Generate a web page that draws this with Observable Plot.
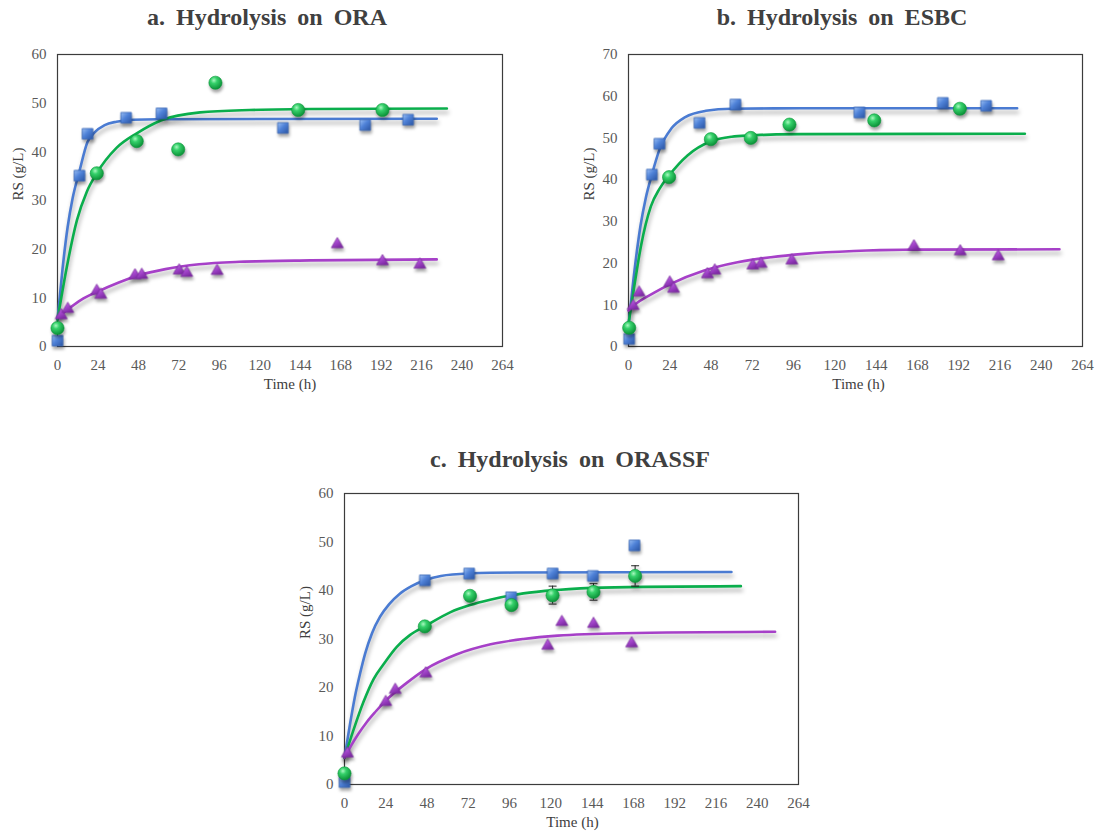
<!DOCTYPE html>
<html>
<head>
<meta charset="utf-8">
<script src="https://cdn.jsdelivr.net/npm/d3@7"></script>
<script src="https://cdn.jsdelivr.net/npm/@observablehq/plot@0.6"></script>
<style>
  html, body { margin: 0; padding: 0; background: #ffffff; }
  #wrap { position: relative; width: 1105px; height: 838px; overflow: hidden; background: #fff; }
  .title { position: absolute; width: 460px; text-align: center; font-family: 'Liberation Serif', 'Times New Roman', serif;
           font-weight: bold; font-size: 24px; line-height: 26px; color: #404040; word-spacing: 5px; }
  .panel { position: absolute; }
</style>
</head>
<body>
<div id="wrap">
  <svg width="0" height="0" style="position:absolute">
    <defs>
      <linearGradient id="gSq" x1="0" y1="0" x2="1" y2="1">
        <stop offset="0" stop-color="#9cc0f4"/>
        <stop offset="0.45" stop-color="#4f82d8"/>
        <stop offset="1" stop-color="#2b55a3"/>
      </linearGradient>
      <radialGradient id="gCi" cx="0.38" cy="0.32" r="0.7">
        <stop offset="0" stop-color="#a8f7bf"/>
        <stop offset="0.35" stop-color="#35d06a"/>
        <stop offset="1" stop-color="#0a8f36"/>
      </radialGradient>
      <linearGradient id="gTr" x1="0" y1="0" x2="0.6" y2="1">
        <stop offset="0" stop-color="#d28af0"/>
        <stop offset="0.5" stop-color="#a748cf"/>
        <stop offset="1" stop-color="#7d2aa3"/>
      </linearGradient>
    </defs>
  </svg>
</div>
<script>
// ---------- data ----------
const xTicks = [0, 24, 48, 72, 96, 120, 144, 168, 192, 216, 240, 264];
const yTicksA = [0, 10, 20, 30, 40, 50, 60];
const yTicksB = [0, 10, 20, 30, 40, 50, 60, 70];
const yTicksC = [0, 10, 20, 30, 40, 50, 60];

const titles = ["a. Hydrolysis on ORA", "b. Hydrolysis on ESBC", "c. Hydrolysis on ORASSF"];
const xLabel = "Time (h)";
const yLabel = "RS (g/L)";

// Panel a
const aSquares = [[0,1.2],[13,35.1],[17.8,43.7],[40.7,47.0],[61.7,47.9],[133.7,44.9],[182.5,45.5],[208,46.6]];
const aCircles = [[0,3.8],[23.3,35.6],[47,42.2],[71.6,40.5],[93.7,54.2],[142.8,48.6],[192.8,48.6]];
const aTriangles = [[2.2,6.4],[6.1,7.7],[23.3,11.4],[25.7,10.6],[46,14.6],[50,14.7],[72.2,15.6],[76.7,15.1],[94.7,15.5],[166,21],[192.8,17.5],[215,16.8]];
const aBlueFit = [[0,5.5],[3,16],[6,24.5],[9,30.5],[13,36],[17.8,42],[22,44],[28,45.5],[35,46.2],[45,46.6],[60,46.7],[225,46.8]];
const aGreenFit = [[0,5.5],[5.5,16.3],[11.5,25.9],[17.4,31.8],[23.3,35.6],[35,40.8],[47,43.8],[61.7,46.5],[84.6,48.1],[114,48.6],[150,48.8],[231,48.9]];
const aPurpleFit = [[0,6.0],[6,7.6],[14,9.6],[24,11.3],[36,13.1],[48,14.6],[64,15.9],[84,16.9],[108,17.4],[150,17.7],[225,17.9]];

// Panel b
const bSquares = [[0.4,1.8],[13.6,41.2],[18,48.6],[41.3,53.6],[62.2,58.0],[134.3,56.1],[182.8,58.4],[208,57.7]];
const bCircles = [[0.4,4.5],[23.6,40.6],[47.9,49.7],[71.1,50.0],[93.6,53.2],[142.9,54.2],[192.7,57.0]];
const bTriangles = [[2.7,9.7],[6.2,12.9],[24,15.3],[26.2,13.8],[45.9,17.3],[50.2,18.2],[72.3,19.4],[77.1,19.8],[95,20.6],[166,24.0],[192.9,22.8],[215,21.6]];
const bBlueFit = [[0,5],[4,20],[7,29],[10,35.5],[13.6,41.2],[18,47.2],[25,52.3],[33,55.0],[45,56.5],[60,57.0],[100,57.1],[226,57.1]];
const bGreenFit = [[0,5.4],[3,13.5],[7.2,24],[13,33.6],[18,37.8],[23.6,41.0],[34.3,45.8],[47.9,49.2],[60,50.3],[71,50.6],[100,50.9],[230.5,51.0]];
const bPurpleFit = [[0,8.6],[2.7,9.7],[15,12.9],[24.6,15],[44,18.2],[63.4,20.2],[82.8,21.4],[102,22.2],[131,22.9],[160,23.2],[250.6,23.3]];

// Panel c
const cSquares = [[0,0.5],[46.7,42.1],[72.5,43.5],[96.9,38.6],[121,43.5],[144.4,43],[168.6,49.3]];
const cCircles = [[0,2.3],[46.7,32.6],[73,38.9],[97.1,37.0],[121,39.0],[144.8,39.7],[169,43.0]];
const cTriangles = [[1.7,6.4],[24,17.0],[29.5,19.5],[47.3,22.9],[118.2,28.6],[126.4,33.5],[144.8,33.1],[167,29.1]];
const cErrors = [[121,37.2,40.9],[144.8,38.0,41.4],[169,40.9,45.1]];
const cBlueFit = [[0,5.5],[3,12],[6,18],[9,22.8],[12,27],[16,31.2],[20.7,34.6],[26,37.2],[32,39.3],[39,40.9],[46.7,42.1],[56,43],[72,43.5],[100,43.7],[225,43.8]];
const cGreenFit = [[0,5.5],[5,11],[11,17],[17,21.8],[22.7,24.8],[30.4,28.4],[38,30.8],[46.7,32.6],[61.4,35.5],[73,37.0],[84.7,38.1],[104,39.4],[123.5,40.1],[150,40.6],[230.5,40.9]];
const cPurpleFit = [[0,5.5],[4,8.1],[8,10.4],[13,12.9],[18,15.0],[24,17.3],[36,20.9],[47.3,23.8],[65,26.8],[85,28.9],[104,30.0],[124,30.7],[162,31.2],[250.4,31.5]];

// ---------- styles ----------
const blueLine = "#4a7bd2", greenLine = "#0aae4c", purpleLine = "#a640c8";
const capSymbol = { draw(ctx, size) { const w = Math.sqrt(size); ctx.moveTo(-w / 2, 0); ctx.lineTo(w / 2, 0); } };

function panel(cfg) {
  const X = d => d[0], Y = d => d[1];
  const marks = [
    Plot.frame({stroke: "#3c3c3c", strokeWidth: 1.2}),
    Plot.axisX({ticks: xTicks, tickSize: 0, tickPadding: 13, tickFormat: d => d, fill: "#595959"}),
    Plot.axisY({ticks: cfg.yTicks, tickSize: 0, tickPadding: 11, tickFormat: d => d, fill: "#595959"}),
    Plot.text([xLabel], {frameAnchor: "bottom", dy: 42, dx: cfg.xLabelDx, text: d => d, fill: "#404040", fontSize: 15}),
    Plot.text([yLabel], {frameAnchor: "left", dx: -39, rotate: -90, text: d => d, fill: "#404040", fontSize: 15}),
    Plot.line(cfg.blueFit, {x: X, y: Y, stroke: blueLine, strokeWidth: 2.6, curve: "monotone-x"}),
    Plot.line(cfg.greenFit, {x: X, y: Y, stroke: greenLine, strokeWidth: 2.6, curve: "monotone-x"}),
    Plot.line(cfg.purpleFit, {x: X, y: Y, stroke: purpleLine, strokeWidth: 2.6, curve: "monotone-x"})
  ];
  if (cfg.errors) {
    marks.push(Plot.ruleX(cfg.errors, {x: d => d[0], y1: d => d[1], y2: d => d[2], stroke: "#222", strokeWidth: 1}));
    marks.push(Plot.dot(cfg.errors, {x: d => d[0], y: d => d[1], symbol: capSymbol, r: 4.5, stroke: "#222", strokeWidth: 1}));
    marks.push(Plot.dot(cfg.errors, {x: d => d[0], y: d => d[2], symbol: capSymbol, r: 4.5, stroke: "#222", strokeWidth: 1}));
  }
  marks.push(
    Plot.dot(cfg.triangles, {x: X, y: Y, symbol: "triangle", r: 4.4, fill: "url(#gTr)", stroke: "#7a2a9e", strokeWidth: 0.8}),
    Plot.dot(cfg.squares, {x: X, y: Y, symbol: "square", r: 6.0, fill: "url(#gSq)", stroke: "#3563b4", strokeWidth: 0.8}),
    Plot.dot(cfg.circles, {x: X, y: Y, symbol: "circle", r: 6.6, fill: "url(#gCi)", stroke: "#0b9a3d", strokeWidth: 0.6})
  );
  const svg = Plot.plot({
    width: cfg.width, height: cfg.height,
    marginTop: cfg.mt, marginRight: cfg.mr, marginBottom: cfg.mb, marginLeft: cfg.ml,
    x: {domain: [0, 264], label: null},
    y: {domain: cfg.yDomain, label: null},
    style: {fontFamily: "'Liberation Serif', 'Times New Roman', serif", fontSize: "15px", color: "#595959", background: "transparent", overflow: "visible"},
    marks
  });
  d3.select(svg).selectAll('g[aria-label="line"]').style("filter", "drop-shadow(1px 4px 2px rgba(0,0,0,0.32))");
  d3.select(svg).selectAll('g[aria-label="dot"]').style("filter", "drop-shadow(1px 3px 1.5px rgba(0,0,0,0.35))");
  const div = document.createElement("div");
  div.className = "panel";
  div.style.left = cfg.left + "px";
  div.style.top = cfg.top + "px";
  div.appendChild(svg);
  return div;
}

const wrap = document.getElementById("wrap");
function addTitle(text, cx, top) {
  const t = document.createElement("div");
  t.className = "title";
  t.textContent = text;
  t.style.left = (cx - 230) + "px";
  t.style.top = top + "px";
  wrap.appendChild(t);
}

wrap.appendChild(panel({left: 0, top: 40, width: 540, height: 362, mt: 14, mr: 38, mb: 56, ml: 57,
  yDomain: [0, 60], yTicks: yTicksA, xLabelDx: 10,
  squares: aSquares, circles: aCircles, triangles: aTriangles,
  blueFit: aBlueFit, greenFit: aGreenFit, purpleFit: aPurpleFit}));
wrap.appendChild(panel({left: 570, top: 40, width: 535, height: 362, mt: 14, mr: 23, mb: 56, ml: 58,
  yDomain: [0, 70], yTicks: yTicksB, xLabelDx: 3,
  squares: bSquares, circles: bCircles, triangles: bTriangles,
  blueFit: bBlueFit, greenFit: bGreenFit, purpleFit: bPurpleFit}));
wrap.appendChild(panel({left: 290, top: 480, width: 530, height: 358, mt: 13, mr: 22, mb: 54, ml: 54,
  yDomain: [0, 60], yTicks: yTicksC, xLabelDx: 1,
  squares: cSquares, circles: cCircles, triangles: cTriangles, errors: cErrors,
  blueFit: cBlueFit, greenFit: cGreenFit, purpleFit: cPurpleFit}));

addTitle(titles[0], 267, 4);
addTitle(titles[1], 842, 4);
addTitle(titles[2], 570, 446);
</script>
</body>
</html>
